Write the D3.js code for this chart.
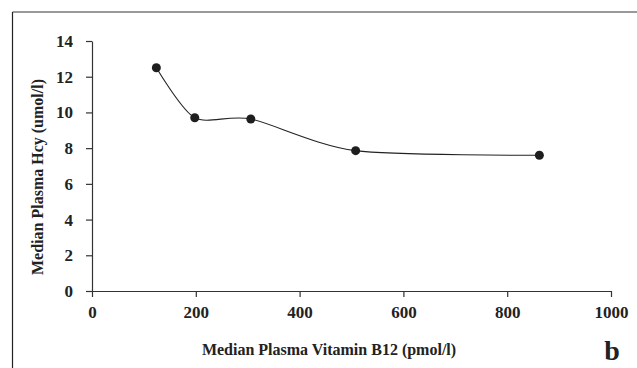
<!DOCTYPE html>
<html>
<head>
<meta charset="utf-8">
<script src="https://cdn.jsdelivr.net/npm/d3@7"></script>
<style>
  body { margin: 0; background: #fff; }
  svg { display: block; }
</style>
</head>
<body>
<div id="chart"></div>
<script>
// values
const b12 = [124, 198, 306, 508, 862];
const hcy = [12.5, 9.7, 9.63, 7.86, 7.6];
const xTicks = [0, 200, 400, 600, 800, 1000];
const yTicks = [0, 2, 4, 6, 8, 10, 12, 14];

const W = 637, H = 368;
const margin = {top: 41, right: 26, bottom: 77, left: 92};
const width = W - margin.left - margin.right;
const height = H - margin.top - margin.bottom;

const svg = d3.select("#chart").append("svg")
  .attr("width", W)
  .attr("height", H);

// frame around the panel
svg.append("line")
  .attr("x1", 12.5).attr("x2", W).attr("y1", 12).attr("y2", 12)
  .style("stroke", "#777").style("stroke-width", 1.5);
svg.append("line")
  .attr("x1", 12.5).attr("x2", 12.5).attr("y1", 12).attr("y2", H)
  .style("stroke", "#222").style("stroke-width", 1.2);

const g = svg.append("g")
  .attr("transform", "translate(" + margin.left + "," + margin.top + ")");

const x = d3.scaleLinear().domain([0, 1000]).range([0, width]);
const y = d3.scaleLinear().domain([0, 14]).range([height, 0]);

const font = "'Liberation Serif', 'Times New Roman', serif";

// x axis
const xAxis = g.append("g")
  .attr("transform", "translate(0," + height + ")")
  .call(d3.axisBottom(x).tickValues(xTicks).tickFormat(d3.format("d"))
    .tickSize(6).tickSizeOuter(0).tickPadding(9));
// y axis
const yAxis = g.append("g")
  .call(d3.axisLeft(y).tickValues(yTicks).tickSize(6).tickSizeOuter(0).tickPadding(13));

[xAxis, yAxis].forEach(a => {
  a.selectAll("path, line").style("stroke", "#333").style("stroke-width", 1.2);
  a.selectAll("text")
    .style("font-family", font)
    .style("font-weight", "bold")
    .style("font-size", "17px")
    .style("fill", "#222");
});

// smoothed line like the spreadsheet one
const pts = b12.map((v, i) => [v, hcy[i]]);
const line = d3.line()
  .x(d => x(d[0]))
  .y(d => y(d[1]))
  .curve(d3.curveCardinal.tension(0.2));

g.append("path")
  .datum(pts)
  .attr("d", line)
  .style("fill", "none")
  .style("stroke", "#222")
  .style("stroke-width", 1.1);

g.selectAll(".dot")
  .data(pts)
  .enter()
  .append("circle")
    .attr("class", "dot")
    .attr("cx", d => x(d[0]))
    .attr("cy", d => y(d[1]))
    .attr("r", 4.5)
    .style("fill", "#1e1e1e");

// axis titles
svg.append("text")
  .attr("x", 329)
  .attr("y", 355)
  .attr("text-anchor", "middle")
  .style("font-family", font)
  .style("font-weight", "bold")
  .style("font-size", "16px")
  .style("fill", "#222")
  .text("Median Plasma Vitamin B12 (pmol/l)");

svg.append("text")
  .attr("transform", "translate(43,177) rotate(-90)")
  .attr("text-anchor", "middle")
  .style("font-family", font)
  .style("font-weight", "bold")
  .style("font-size", "16px")
  .style("fill", "#222")
  .text("Median Plasma Hcy (umol/l)");

svg.append("text")
  .attr("x", 612)
  .attr("y", 360)
  .attr("text-anchor", "middle")
  .style("font-family", font)
  .style("font-weight", "bold")
  .style("font-size", "28px")
  .style("fill", "#222")
  .text("b");
</script>
</body>
</html>
